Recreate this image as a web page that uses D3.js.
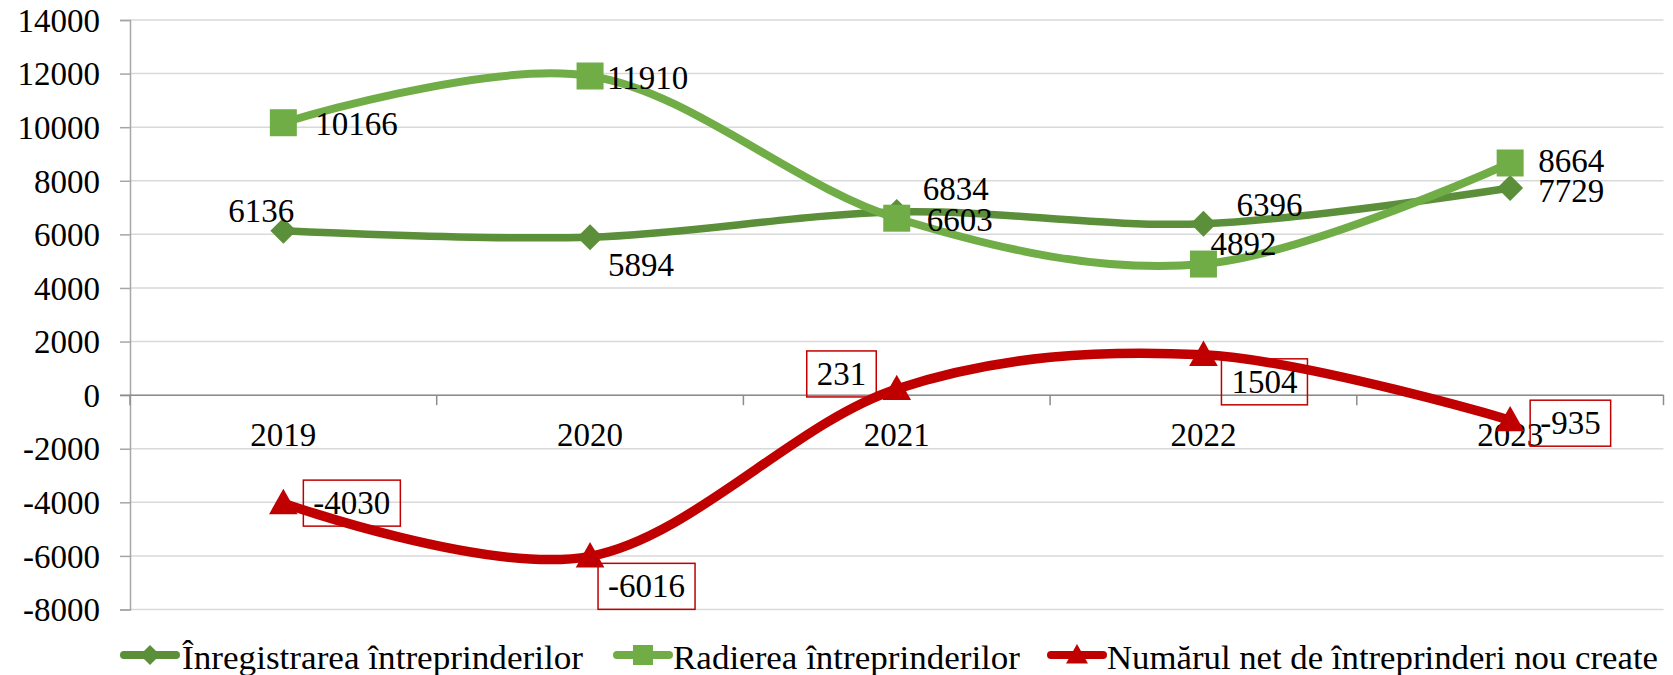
<!DOCTYPE html>
<html>
<head>
<meta charset="utf-8">
<script src="https://cdn.jsdelivr.net/npm/d3@7"></script>
<style>
  body { margin: 0; background: #fff; }
  svg text { font-family: "Liberation Serif", "DejaVu Serif", serif; fill: #000; }
</style>
</head>
<body>
<script>
// dimensiuni
var w = 1673;
var h = 675;

// date
var years = ["2019", "2020", "2021", "2022", "2023"];
var inregistrare = [6136, 5894, 6834, 6396, 7729];
var radiere = [10166, 11910, 6603, 4892, 8664];
var netCreate = [-4030, -6016, 231, 1504, -935];
var seriesNames = ["Înregistrarea întreprinderilor", "Radierea întreprinderilor", "Numărul net de întreprinderi nou create"];
var yTicks = [14000, 12000, 10000, 8000, 6000, 4000, 2000, 0, -2000, -4000, -6000, -8000];

// stiluri serii
var series = [
    { name: seriesNames[0], values: inregistrare, color: "#5b8f3a", width: 7.5, marker: "diamond", boxed: false,
      // pozitia etichetelor (dx, dy fata de punct)
      labels: [[-55, -9], [18, 39], [26, -12], [33, -8], [28, 14]] },
    { name: seriesNames[1], values: radiere, color: "#70ad47", width: 8, marker: "square", boxed: false,
      labels: [[32, 12], [17, 13], [30, 13], [7, -9], [28, 9]] },
    { name: seriesNames[2], values: netCreate, color: "#c00000", width: 9.5, marker: "triangle", boxed: true,
      labels: [[30, 11], [18, 41], [-80, -4], [28, 38], [30, 14]] }
];

var margin = { left: 130, right: 1663.5, top: 20, bottom: 609.5 };

var x = d3.scaleBand()
    .domain(years)
    .range([margin.left, margin.right]);

var y = d3.scaleLinear()
    .domain([-8000, 14000])
    .range([margin.bottom, margin.top]);

var svg = d3.select("body").append("svg")
    .attr("width", w)
    .attr("height", h);

// linii de grila
svg.append("g")
    .selectAll("line")
    .data(yTicks)
    .enter()
    .append("line")
    .attr("x1", margin.left)
    .attr("x2", margin.right)
    .attr("y1", function (d) { return y(d); })
    .attr("y2", function (d) { return y(d); })
    .style("stroke", "#d9d9d9")
    .style("stroke-width", 1.5);

// axa Y
var yAxis = d3.axisLeft(y)
    .tickValues(yTicks)
    .tickSize(10)
    .tickPadding(20)
    .tickFormat(function (d) { return d; });

var gy = svg.append("g")
    .attr("transform", "translate(" + margin.left + ",0)")
    .call(yAxis);
gy.select(".domain").style("stroke", "#a6a6a6").style("stroke-width", 1.5);
gy.selectAll(".tick line").style("stroke", "#a6a6a6").style("stroke-width", 1.5);
gy.selectAll(".tick text")
    .style("font-family", "Liberation Serif")
    .style("font-size", "33px")
    .attr("fill", "#000")
    .attr("dy", "0.34em");

// axa X pe linia de zero
svg.append("line")
    .attr("x1", margin.left - 10)
    .attr("x2", margin.right)
    .attr("y1", y(0))
    .attr("y2", y(0))
    .style("stroke", "#8c8c8c")
    .style("stroke-width", 1.5);

var bounds = years.map(function (d) { return x(d); }).concat([margin.right]);
svg.append("g")
    .selectAll("line")
    .data(bounds)
    .enter()
    .append("line")
    .attr("x1", function (d) { return d; })
    .attr("x2", function (d) { return d; })
    .attr("y1", y(0))
    .attr("y2", y(0) + 10)
    .style("stroke", "#8c8c8c")
    .style("stroke-width", 1.5);

svg.append("g")
    .selectAll("text")
    .data(years)
    .enter()
    .append("text")
    .attr("x", function (d) { return x(d) + x.bandwidth() / 2; })
    .attr("y", y(0) + 51)
    .attr("text-anchor", "middle")
    .style("font-size", "33px")
    .text(function (d) { return d; });

// forme markeri
var markerPath = function (type, s) {
    if (type === "diamond") {
        return "M0," + (-s) + "L" + s + ",0L0," + s + "L" + (-s) + ",0Z";
    } else if (type === "square") {
        return "M" + (-s) + "," + (-s) + "H" + s + "V" + s + "H" + (-s) + "Z";
    }
    return "M0," + (-s * 1.1) + "L" + (s * 1.1) + "," + (s * 0.85) + "L" + (-s * 1.1) + "," + (s * 0.85) + "Z";
};
var markerSize = { diamond: 13, square: 13.5, triangle: 13 };

var line = d3.line()
    .x(function (d, i) { return x(years[i]) + x.bandwidth() / 2; })
    .y(function (d) { return y(d); })
    .curve(d3.curveCardinal.tension(0));

// ———— serii ———— //
series.forEach(function (s) {
    var g = svg.append("g");

    g.append("path")
        .datum(s.values)
        .attr("d", line)
        .style("fill", "none")
        .style("stroke", s.color)
        .style("stroke-width", s.width)
        .style("stroke-linecap", "round");

    g.selectAll(".pt")
        .data(s.values)
        .enter()
        .append("path")
        .attr("class", "pt")
        .attr("transform", function (d, i) {
            return "translate(" + (x(years[i]) + x.bandwidth() / 2) + "," + y(d) + ")";
        })
        .attr("d", markerPath(s.marker, markerSize[s.marker]))
        .style("fill", s.color);
});

// etichete de date (deasupra liniilor)
series.forEach(function (s) {
    var g = svg.append("g");
    s.values.forEach(function (v, i) {
        var px = x(years[i]) + x.bandwidth() / 2;
        var py = y(v);
        var t = g.append("text")
            .attr("x", px + s.labels[i][0])
            .attr("y", py + s.labels[i][1])
            .style("font-size", "33px")
            .text(v);
        if (s.boxed) {
            var bb = t.node().getBBox();
            g.insert("rect", "text")
                .attr("x", bb.x - 10)
                .attr("y", py + s.labels[i][1] - 34)
                .attr("width", bb.width + 20)
                .attr("height", 46)
                .style("fill", "none")
                .style("stroke", "#c00000")
                .style("stroke-width", 1.5);
        }
    });
});

// ———— legenda ———— //
var legendItems = [
    { x: 120, textX: 182, textLen: 401 },
    { x: 613, textX: 673, textLen: 347 },
    { x: 1047, textX: 1107, textLen: 551 }
];
var legendY = 655;

legendItems.forEach(function (it, i) {
    var s = series[i];
    var g = svg.append("g");
    g.append("line")
        .attr("x1", it.x + 4)
        .attr("x2", it.x + 56)
        .attr("y1", legendY)
        .attr("y2", legendY)
        .style("stroke", s.color)
        .style("stroke-width", 8)
        .style("stroke-linecap", "round");
    g.append("path")
        .attr("transform", "translate(" + (it.x + 30) + "," + legendY + ")")
        .attr("d", markerPath(s.marker, 10))
        .style("fill", s.color);
    g.append("text")
        .attr("x", it.textX)
        .attr("y", legendY + 14)
        .attr("textLength", it.textLen)
        .attr("lengthAdjust", "spacingAndGlyphs")
        .style("font-size", "33px")
        .text(s.name);
});
</script>
</body>
</html>
